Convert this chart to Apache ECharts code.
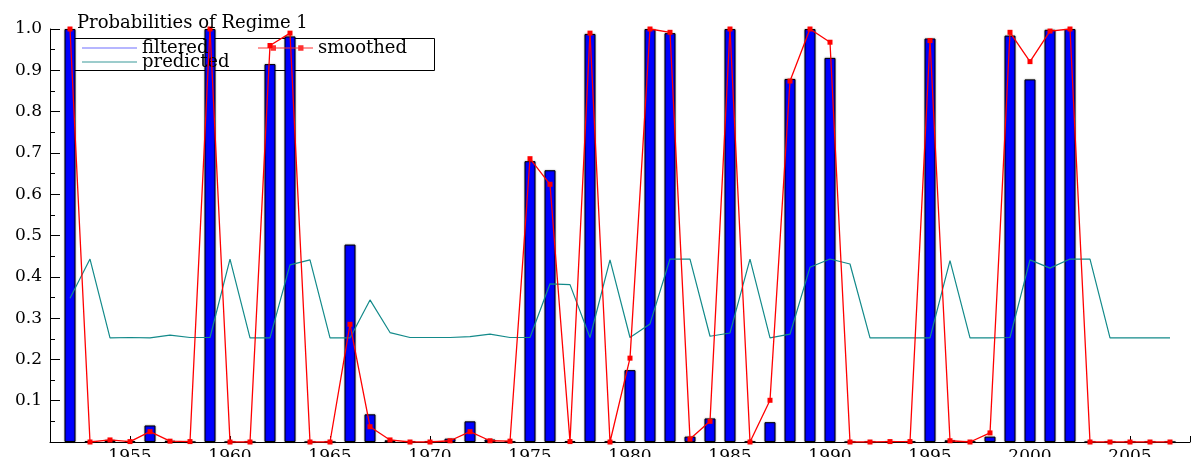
<!DOCTYPE html>
<html>
<head>
<meta charset="utf-8">
<script src="https://cdn.jsdelivr.net/npm/echarts@6/dist/echarts.min.js"></script>
<style>
html,body{margin:0;padding:0;background:#fff;}
#chart{width:1200px;height:457px;}
</style>
</head>
<body>
<div id="chart"></div>
<script>
const years = [];
for (let y = 1952; y <= 2007; y++) years.push(String(y));

const filtered = [
  1.000, 0.002, 0.005, 0.002, 0.040, 0.003, 0.000, 1.000, 0.000, 0.000,
  0.915, 0.982, 0.000, 0.000, 0.478, 0.067, 0.004, 0.001, 0.001, 0.008,
  0.050, 0.006, 0.001, 0.680, 0.658, 0.002, 0.988, 0.001, 0.174, 1.000,
  0.990, 0.013, 0.057, 1.000, 0.001, 0.048, 0.879, 1.000, 0.930, 0.000,
  0.000, 0.002, 0.001, 0.977, 0.004, 0.001, 0.013, 0.984, 0.878, 0.998,
  1.000, 0.000, 0.000, 0.000, 0.000, 0.000
];
const smoothed = [
  1.000, 0.000, 0.005, 0.001, 0.025, 0.002, 0.001, 1.000, 0.000, 0.000,
  0.960, 0.990, 0.000, 0.000, 0.285, 0.037, 0.005, 0.000, 0.000, 0.003,
  0.025, 0.003, 0.002, 0.686, 0.624, 0.001, 0.990, 0.000, 0.203, 1.000,
  0.992, 0.007, 0.050, 1.000, 0.000, 0.101, 0.874, 1.000, 0.968, 0.000,
  0.000, 0.001, 0.001, 0.972, 0.003, 0.000, 0.022, 0.992, 0.921, 0.995,
  1.000, 0.000, 0.000, 0.000, 0.000, 0.000
];
const predicted = [
  0.348, 0.443, 0.252, 0.253, 0.252, 0.259, 0.253, 0.253, 0.443, 0.252,
  0.252, 0.429, 0.441, 0.252, 0.252, 0.344, 0.265, 0.253, 0.253, 0.253,
  0.255, 0.261, 0.253, 0.253, 0.383, 0.381, 0.253, 0.441, 0.253, 0.286,
  0.443, 0.443, 0.256, 0.264, 0.443, 0.252, 0.261, 0.423, 0.443, 0.431,
  0.252, 0.252, 0.252, 0.252, 0.439, 0.252, 0.252, 0.253, 0.441, 0.421,
  0.443, 0.443, 0.252, 0.252, 0.252, 0.252
];
const yTicks = [0.1, 0.2, 0.3, 0.4, 0.5, 0.6, 0.7, 0.8, 0.9, 1.0];

const axisCats = ['1951'].concat(years, ['2008']);
const pad = arr => ['-'].concat(arr, ['-']);
const FONT = 'DejaVu Serif';

const chart = echarts.init(document.getElementById('chart'), null, {renderer: 'canvas'});
chart.setOption({
  animation: false,
  backgroundColor: '#fff',
  title: {
    text: 'Probabilities of Regime 1',
    left: 77, top: 14, padding: 0,
    textStyle: {fontFamily: FONT, fontSize: 18, fontWeight: 'normal', color: '#000'}
  },
  grid: {left: 50, right: 10, top: 29, bottom: 15, containLabel: false, outerBoundsMode: 'none'},
  legend: [
    {
      orient: 'vertical', left: 82, top: 39, padding: 0, itemGap: -4,
      itemWidth: 55, itemHeight: 14, selectedMode: false,
      textStyle: {fontFamily: FONT, fontSize: 18, color: '#000', lineHeight: 14},
      data: [
        {name: 'filtered', icon: 'path://M0,0 L52,0 L52,1 L0,1 Z', itemStyle: {color: '#6f6fff', borderWidth: 0}},
        {name: 'predicted', icon: 'path://M0,0 L52,0 L52,1 L0,1 Z', itemStyle: {color: '#3a9a9a', borderWidth: 0}}
      ]
    },
    {
      orient: 'horizontal', left: 258, top: 39, padding: 0,
      itemWidth: 55, itemHeight: 14, selectedMode: false,
      textStyle: {fontFamily: FONT, fontSize: 18, color: '#000', lineHeight: 14},
      data: [
        {name: 'smoothed', icon: 'path://M0,2.5 L52,2.5 L52,3.5 L0,3.5 Z M12,0.5 L17,0.5 L17,5.5 L12,5.5 Z M38,0.5 L43,0.5 L43,5.5 L38,5.5 Z', itemStyle: {color: '#ff3030', borderWidth: 0}}
      ]
    }
  ],
  graphic: [
    {type: 'rect', left: 72, top: 36, z: 0, silent: true,
     shape: {width: 360, height: 32}, style: {fill: 'none', stroke: '#000', lineWidth: 1}}
  ],
  xAxis: {
    type: 'category',
    data: axisCats,
    boundaryGap: false,
    axisLine: {show: true, lineStyle: {color: '#000', width: 1}},
    axisTick: {show: true, inside: true, length: 6, lineStyle: {color: '#000'},
      interval: (i, v) => Number(v) % 5 === 0 || i === axisCats.length - 1},
    axisLabel: {show: true, margin: 6, fontFamily: FONT, fontSize: 17, color: '#000',
      interval: (i, v) => Number(v) % 5 === 0},
    splitLine: {show: false}
  },
  yAxis: {
    type: 'value', min: 0, max: 1, interval: 0.1,
    axisLine: {show: true, lineStyle: {color: '#000', width: 1}},
    axisTick: {show: true, inside: true, length: 10, lineStyle: {color: '#000'}},
    minorTick: {show: true, splitNumber: 2, length: 5, lineStyle: {color: '#000'}},
    axisLabel: {margin: 8, fontFamily: FONT, fontSize: 17, color: '#000',
      formatter: v => (yTicks.some(t => Math.abs(t - v) < 1e-6) ? v.toFixed(1) : '')},
    splitLine: {show: false}
  },
  series: [
    {
      name: 'filtered', type: 'bar', data: pad(filtered), barWidth: 11, z: 2,
      itemStyle: {color: '#0000ff', borderColor: '#000', borderWidth: 1,
        shadowColor: 'rgba(0,0,0,0.35)', shadowBlur: 2}
    },
    {
      name: 'predicted', type: 'line', data: pad(predicted), z: 3,
      symbol: 'none', lineStyle: {color: '#138a8a', width: 1.2}, itemStyle: {color: '#138a8a'}
    },
    {
      name: 'smoothed', type: 'line', data: pad(smoothed), z: 4,
      symbol: 'rect', symbolSize: 5, showAllSymbol: true,
      lineStyle: {color: '#ff0000', width: 1.3}, itemStyle: {color: '#ff0000'}
    }
  ]
});
</script>
</body>
</html>
